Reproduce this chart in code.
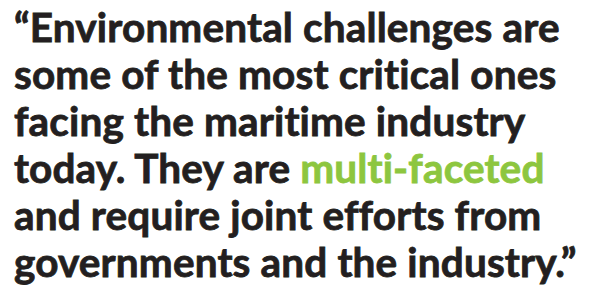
<!DOCTYPE html>
<html>
<head>
<meta charset="utf-8">
<script src="https://cdn.jsdelivr.net/npm/chart.js@4.4.0/dist/chart.umd.min.js"></script>
<style>
  html, body { margin: 0; padding: 0; background: #ffffff; }
  #quote {
    width: 590px;
    height: 293px;
    box-sizing: border-box;
    padding: 3px 0 0 14px;
    font-family: "Lato", sans-serif;
    font-weight: 700;
    font-size: 40.5px;
    line-height: 47px;
    letter-spacing: 0.15px;
    color: #231f20;
    -webkit-text-stroke: 0.8px currentColor;
    white-space: nowrap;
  }
  .hl { color: #8dc63f; }
</style>
</head>
<body>
<div id="quote"></div>
<script>
// quote lines, split as in the picture; the highlighted words sit in their own array
const lines = [
  "\u201cEnvironmental challenges are",
  "some of the most critical ones",
  "facing the maritime industry",
  "today. They are ",
  "and require joint efforts from",
  "governments and the industry.\u201d"
];
const highlightLine = 3;
const highlight = ["multi-faceted"];

const box = document.getElementById("quote");
lines.forEach(function(text, i) {
  const div = document.createElement("div");
  div.textContent = text;
  if (i === highlightLine) {
    const span = document.createElement("span");
    span.className = "hl";
    span.textContent = highlight[0];
    div.appendChild(span);
  }
  box.appendChild(div);
});
</script>
</body>
</html>
